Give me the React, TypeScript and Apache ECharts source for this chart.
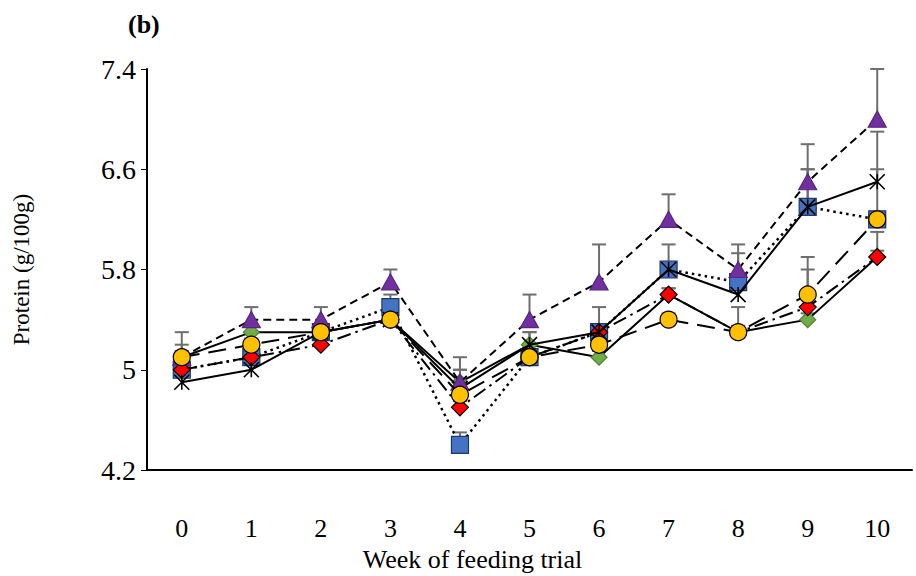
import React, { useEffect, useRef } from "react";
import * as echarts from "echarts";

const weeks = ["0", "1", "2", "3", "4", "5", "6", "7", "8", "9", "10"];
const yTicks = [4.2, 5, 5.8, 6.6, 7.4];

const greenVals = [5.1, 5.3, 5.3, 5.4, 4.9, 5.2, 5.1, 5.6, 5.3, 5.4, 5.9];
const greenErr = [0.05, 0.05, 0.05, 0.05, 0.1, 0.1, 0.05, 0.05, 0.2, 0.05, 0.05];
const squareVals = [5.0, 5.1, 5.3, 5.5, 4.4, 5.1, 5.3, 5.8, 5.7, 6.3, 6.2];
const squareErr = [0.05, 0.05, 0.05, 0.1, 0.1, 0.05, 0.2, 0.2, 0.23, 0.3, 0.4];
const redVals = [5.0, 5.1, 5.2, 5.4, 4.7, 5.1, 5.3, 5.6, 5.3, 5.5, 5.9];
const redErr = [0.05, 0.05, 0.05, 0.05, 0.05, 0.05, 0.05, 0.05, 0.05, 0.3, 0.2];
const starVals = [4.9, 5.0, 5.3, 5.4, 4.85, 5.2, 5.3, 5.8, 5.6, 6.3, 6.5];
const starErr = [0.05, 0.05, 0.05, 0.05, 0.15, 0.1, 0.05, 0.05, 0.05, 0.3, 0.4];
const purpleVals = [5.1, 5.4, 5.4, 5.7, 4.9, 5.4, 5.7, 6.2, 5.8, 6.5, 7.0];
const purpleErr = [0.1, 0.1, 0.1, 0.1, 0.2, 0.2, 0.3, 0.2, 0.2, 0.3, 0.4];
const yellowVals = [5.1, 5.2, 5.3, 5.4, 4.8, 5.1, 5.2, 5.4, 5.3, 5.6, 6.2];
const yellowErr = [0.2, 0.05, 0.05, 0.05, 0.05, 0.05, 0.05, 0.05, 0.05, 0.3, 0.05];

const STAR = "path://M0,0L10,10M10,0L0,10M5,0L5,10";
const SERIF = "Liberation Serif";

export default function App() {
  const ref = useRef<HTMLDivElement>(null);
  useEffect(() => {
    if (!ref.current) return;
    const chart = echarts.init(ref.current, null, { renderer: "svg" });

    const groups = [
      { name: "green", vals: greenVals, err: greenErr, symbol: "diamond", size: 16, color: "#70AD47", border: "#507E32", line: { type: "solid" } },
      { name: "square", vals: squareVals, err: squareErr, symbol: "rect", size: 17, color: "#4472C4", border: "#1F3864", line: { type: [2.5, 4] } },
      { name: "red", vals: redVals, err: redErr, symbol: "diamond", size: 17, color: "#FF0000", border: "#000000", line: { type: [14, 5, 2.5, 5] } },
      { name: "star", vals: starVals, err: starErr, symbol: STAR, size: 15, color: "#000000", border: "#000000", line: { type: "solid" } },
      { name: "purple", vals: purpleVals, err: purpleErr, symbol: "triangle", size: 17, color: "#7030A0", border: "#5A2480", line: { type: [8, 5] } },
      { name: "yellow", vals: yellowVals, err: yellowErr, symbol: "circle", size: 17, color: "#FFC000", border: "#000000", line: { type: [18, 9] } },
    ];

    const errData: number[][] = [];
    groups.forEach((g) => {
      g.vals.forEach((v, i) => {
        errData.push([i, v, v + g.err[i]]);
      });
    });

    const lineSeries = groups.map((g, idx) => ({
      name: g.name,
      type: "line",
      data: g.vals,
      z: 3 + idx,
      symbol: g.symbol,
      symbolSize: g.symbol === "triangle" ? [18, 16] : g.size,
      symbolKeepAspect: true,
      showAllSymbol: true,
      lineStyle: { color: "#000", width: g.name === "square" ? 2.5 : 2, type: g.line.type },
      itemStyle: {
        color: g.symbol === STAR ? "none" : g.color,
        borderColor: g.border,
        borderWidth: g.symbol === STAR ? 1.6 : 1.2,
      },
      emphasis: { disabled: true },
    }));

    chart.setOption({
      animation: false,
      graphic: [
        {
          type: "text",
          left: 128,
          top: 11,
          style: { text: "(b)", font: `bold 26px "${SERIF}"`, fill: "#000" },
        },
      ],
      grid: { left: 147, right: 4, top: 69, bottom: 106, outerBoundsMode: "none", containLabel: false },
      xAxis: {
        type: "category",
        data: weeks,
        boundaryGap: true,
        name: "Week of feeding trial",
        nameLocation: "middle",
        nameGap: 76,
        nameMoveOverlap: false,
        nameTextStyle: { fontFamily: SERIF, fontSize: 26, color: "#000", padding: [0, 114, 0, 0] },
        axisLine: { lineStyle: { color: "#000", width: 2 } },
        axisTick: { inside: true, length: 10, lineStyle: { color: "#000", width: 1 } },
        axisLabel: { fontFamily: SERIF, fontSize: 26, color: "#000", margin: 45 },
        splitLine: { show: false },
      },
      yAxis: {
        type: "value",
        min: 4.2,
        max: 7.4,
        name: "Protein (g/100g)",
        nameLocation: "middle",
        nameGap: 114,
        nameMoveOverlap: false,
        nameTextStyle: { fontFamily: SERIF, fontSize: 23, color: "#000" },
        axisLine: { show: true, lineStyle: { color: "#000", width: 2 } },
        axisTick: { show: true, length: 6, customValues: yTicks, lineStyle: { color: "#000", width: 1 } },
        axisLabel: {
          fontFamily: SERIF,
          fontSize: 28,
          color: "#000",
          margin: 11,
          customValues: yTicks,
          formatter: (v: number) => String(Math.round(v * 10) / 10),
        },
        splitLine: { show: false },
      },
      series: [
        {
          type: "custom",
          name: "errors",
          z: 2,
          data: errData,
          encode: { x: 0, y: [1, 2] },
          renderItem: (params: any, api: any) => {
            const x = api.value(0);
            const lo = api.coord([x, api.value(1)]);
            const hi = api.coord([x, api.value(2)]);
            const hw = 7;
            const style = { stroke: "#6E6E6E", lineWidth: 2 };
            return {
              type: "group",
              children: [
                { type: "line", shape: { x1: lo[0], y1: lo[1], x2: hi[0], y2: hi[1] }, style },
                { type: "line", shape: { x1: hi[0] - hw, y1: hi[1], x2: hi[0] + hw, y2: hi[1] }, style },
              ],
            };
          },
        },
        ...lineSeries,
      ],
    });
    return () => chart.dispose();
  }, []);
  return <div ref={ref} style={{ position: "absolute", left: 0, top: 0, width: 916, height: 576 }} />;
}
